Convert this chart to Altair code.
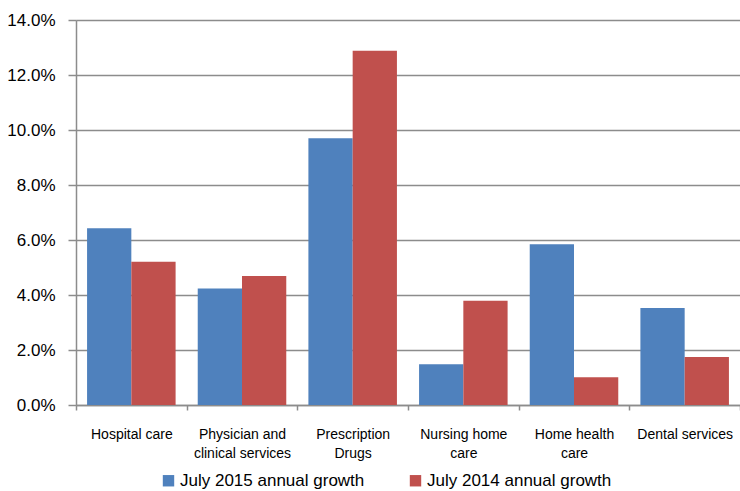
import altair as alt
import pandas as pd

categories = ["Hospital care", "Physician and\nclinical services", "Prescription\nDrugs",
              "Nursing home\ncare", "Home health\ncare", "Dental services"]
series_names = ["July 2015 annual growth", "July 2014 annual growth"]
growth_2015 = [6.43, 4.24, 9.70, 1.48, 5.85, 3.53]
growth_2014 = [5.21, 4.69, 12.88, 3.79, 1.01, 1.75]
colors = ["#4F81BD", "#C0504D"]
y_ticks = [0, 2, 4, 6, 8, 10, 12, 14]

rows = []
for i, c in enumerate(categories):
    rows.append({"category": c, "series": series_names[0], "value": growth_2015[i]})
    rows.append({"category": c, "series": series_names[1], "value": growth_2014[i]})
df = pd.DataFrame(rows)

FONT = "Liberation Sans"

chart = alt.Chart(df).mark_bar().encode(
    x=alt.X("category:N", sort=categories, title=None,
            scale=alt.Scale(paddingInner=0, paddingOuter=0),
            axis=alt.Axis(labelAngle=0, tickBand="extent", tickSize=5, tickColor="#8c8c8c",
                          domainColor="#8c8c8c", domainWidth=1.5, tickWidth=1.5,
                          labelExpr="split(datum.label, '\\n')", labelFont=FONT,
                          labelFontSize=14, labelLineHeight=19, labelPadding=17,
                          labelColor="#000000", labelLimit=200)),
    xOffset=alt.XOffset("series:N", sort=series_names,
                        scale=alt.Scale(paddingInner=0, paddingOuter=0.25)),
    y=alt.Y("value:Q", title=None,
            scale=alt.Scale(domain=[0, 14], nice=False),
            axis=alt.Axis(values=y_ticks, labelExpr="format(datum.value, '.1f') + '%'",
                          tickSize=8, tickColor="#8c8c8c", tickWidth=1.5,
                          domainColor="#8c8c8c", domainWidth=1.5,
                          gridColor="#8c8c8c", gridWidth=1.5,
                          labelFont=FONT, labelFontSize=17, labelPadding=13,
                          labelColor="#000000")),
    color=alt.Color("series:N", sort=series_names,
                    scale=alt.Scale(domain=series_names, range=colors),
                    legend=alt.Legend(title=None, orient="none", direction="horizontal",
                                      legendX=84, legendY=452,
                                      symbolType="square", symbolSize=130,
                                      symbolStrokeWidth=0,
                                      labelFont=FONT, labelFontSize=17, labelColor="#000000",
                                      labelOffset=3, columnPadding=42, labelLimit=300)),
).properties(
    width=664, height=385,
    autosize=alt.AutoSizeParams(type="none"),
    padding={"left": 76, "top": 20, "right": 0, "bottom": 86},
).configure_view(stroke=None).configure(background="white")

chart.save("out.html", embed_options={"renderer": "svg", "actions": False})
